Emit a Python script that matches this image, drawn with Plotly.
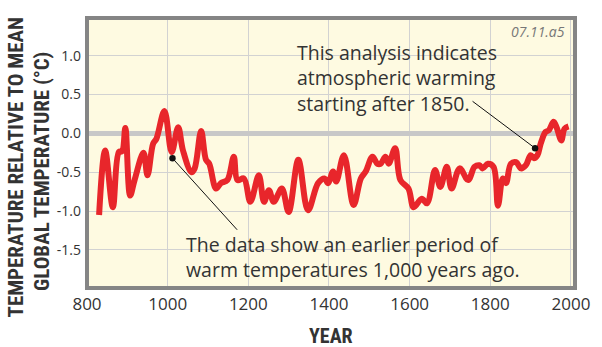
import plotly.graph_objects as go

years = [830, 845, 864, 879, 887, 895, 907, 918, 940, 950, 964, 972, 992, 1010, 1026,
         1038, 1059, 1067, 1083, 1095, 1103, 1120, 1132, 1148, 1164, 1173, 1189, 1205,
         1226, 1239, 1251, 1263, 1283, 1300, 1324, 1348, 1373, 1389, 1398, 1410, 1418,
         1437, 1461, 1479, 1491, 1508, 1520, 1528, 1540, 1548, 1564, 1577, 1597, 1610,
         1630, 1643, 1663, 1676, 1692, 1704, 1724, 1745, 1761, 1773, 1781, 1794, 1808,
         1819, 1831, 1839, 1851, 1864, 1876, 1888, 1900, 1908, 1917, 1925, 1937, 1945,
         1957, 1965, 1976, 1984, 1994]
temps = [-1.05, -0.22, -0.95, -0.24, -0.23, 0.07, -0.80, -0.60, -0.25, -0.54, -0.13, -0.07,
         0.29, -0.24, 0.08, -0.22, -0.50, -0.45, 0.03, -0.34, -0.39, -0.71, -0.64, -0.60,
         -0.30, -0.60, -0.58, -0.88, -0.54, -0.88, -0.73, -0.88, -0.71, -1.01, -0.34,
         -0.99, -0.64, -0.58, -0.64, -0.49, -0.62, -0.28, -0.92, -0.58, -0.49, -0.30,
         -0.39, -0.39, -0.30, -0.39, -0.19, -0.60, -0.71, -0.95, -0.84, -0.90, -0.47,
         -0.69, -0.43, -0.71, -0.45, -0.60, -0.43, -0.41, -0.45, -0.39, -0.43, -0.93,
         -0.58, -0.64, -0.39, -0.37, -0.45, -0.41, -0.28, -0.32, -0.28, -0.13, 0.02,
         0.04, 0.15, 0.07, -0.09, 0.06, 0.09]

x_ticks = [800, 1000, 1200, 1400, 1600, 1800, 2000]
x_labels = ["800", "1000", "1200", "1400", "1600", "1800", "2000"]
y_ticks = [-1.5, -1.0, -0.5, 0.0, 0.5, 1.0]
y_labels = ["-1.5", "-1.0", "-0.5", "0.0", "0.5", "1.0"]

note_warm = "This analysis indicates<br>atmospheric warming<br>starting after 1850."
note_mwp = "The data show an earlier period of<br>warm temperatures 1,000 years ago."
pt_warm = (1911, -0.19)
pt_mwp = (1012, -0.32)

txt = "#333333"
font_main = "Open Sans, sans-serif"
font_title = "Liberation Sans Narrow, Roboto Condensed, Roboto, sans-serif"

L, R, T, B = 87, 19, 18, 59
PW, PH = 602 - L - R, 347 - T - B


def px(x):
    return (x - L) / PW


def py(y):
    return (347 - B - y) / PH


fig = go.Figure()
fig.add_trace(go.Scatter(
    x=years, y=temps, mode="lines",
    line=dict(color="#E8262B", width=6, shape="spline", smoothing=1.0),
    hoverinfo="skip", showlegend=False,
))

fig.update_layout(
    width=602, height=347,
    margin=dict(l=L, r=R, t=T, b=B),
    paper_bgcolor="white",
    plot_bgcolor="#FEFAE1",
    showlegend=False,
    xaxis=dict(
        range=[800, 2010], tickvals=x_ticks, ticktext=x_labels,
        showgrid=True, gridcolor="#D2D2D2", gridwidth=1,
        zeroline=False, showline=False,
        ticks="", ticklabelstandoff=4, tickfont=dict(family=font_main, size=17, color=txt),
        fixedrange=True,
    ),
    yaxis=dict(
        range=[-1.99, 1.486], tickvals=y_ticks, ticktext=y_labels,
        showgrid=True, gridcolor="#D2D2D2", gridwidth=1,
        zeroline=True, zerolinecolor="#C8C8C8", zerolinewidth=5,
        showline=False,
        ticks="", ticklabelstandoff=5, tickfont=dict(family=font_main, size=14, color=txt),
        fixedrange=True,
    ),
)

# plot frame
fig.add_shape(type="rect", xref="paper", yref="paper", x0=0, x1=1, y0=0, y1=1,
              line=dict(color="#858585", width=4), layer="above")

fig.add_annotation(xref="paper", yref="paper", x=0.5, y=0, yshift=-48,
                   xanchor="center", yanchor="middle",
                   text="<b>YEAR</b>", showarrow=False,
                   font=dict(family=font_title, size=20, color=txt))
fig.add_annotation(xref="paper", yref="paper", x=0, xshift=-72, y=py(167.5),
                   xanchor="center", yanchor="middle",
                   text="<b>TEMPERATURE RELATIVE TO MEAN</b>", textangle=-90, showarrow=False,
                   font=dict(family=font_title, size=21, color=txt))
fig.add_annotation(xref="paper", yref="paper", x=0, xshift=-45, y=py(172),
                   xanchor="center", yanchor="middle",
                   text="<b>GLOBAL TEMPERATURE (°C)</b>", textangle=-90, showarrow=False,
                   font=dict(family=font_title, size=21, color=txt))
fig.add_annotation(xref="paper", yref="paper", x=px(575), y=py(31),
                   xanchor="right", yanchor="middle",
                   text="<i>07.11.a5</i>", showarrow=False,
                   font=dict(family=font_main, size=14, color="#777777"))

fig.add_annotation(x=pt_warm[0], y=pt_warm[1], ax=-64, ay=-48, axref="pixel", ayref="pixel",
                   text="", showarrow=True, arrowhead=6, arrowside="end",
                   arrowwidth=1, arrowcolor="#111111", arrowsize=1.6)
fig.add_annotation(x=pt_mwp[0], y=pt_mwp[1], ax=66, ay=73, axref="pixel", ayref="pixel",
                   text="", showarrow=True, arrowhead=6, arrowside="end",
                   arrowwidth=1, arrowcolor="#111111", arrowsize=1.6)

fig.add_annotation(xref="paper", yref="paper", x=px(298), y=py(78),
                   xanchor="left", yanchor="middle", align="left", text=note_warm, showarrow=False,
                   font=dict(family=font_main, size=19.5, color=txt))
fig.add_annotation(xref="paper", yref="paper", x=px(186), y=py(257),
                   xanchor="left", yanchor="middle", align="left", text=note_mwp, showarrow=False,
                   font=dict(family=font_main, size=19.5, color=txt))

fig.write_html("out.html")
